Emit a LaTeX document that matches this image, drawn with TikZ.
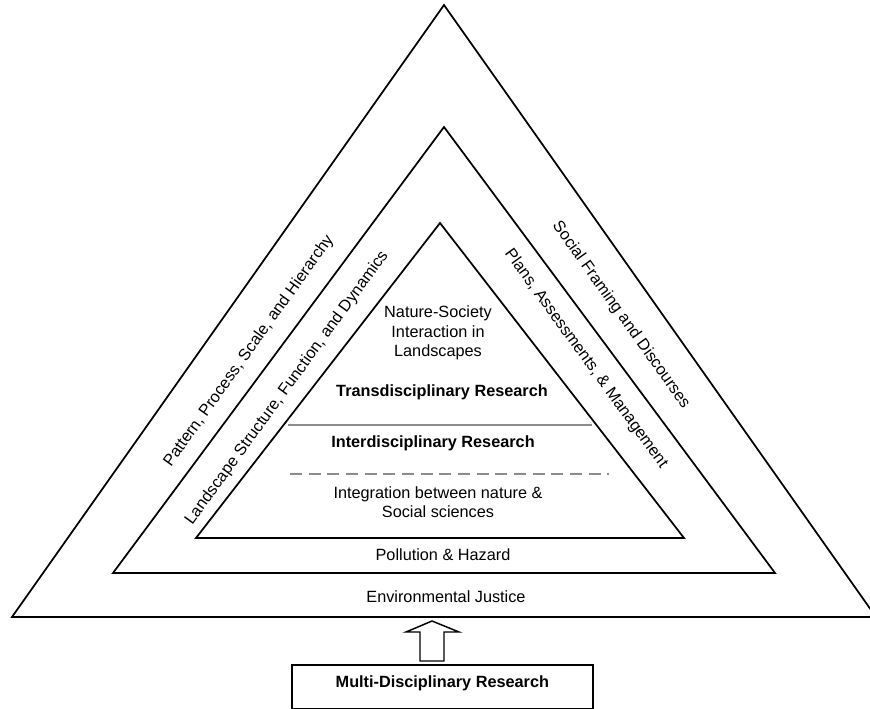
\documentclass[tikz,border=0pt]{standalone}
\usepackage{fontspec}
\setmainfont{Liberation Sans}
\usetikzlibrary{calc}
\begin{document}
\begin{tikzpicture}[x=0.75pt,y=-0.75pt,
  tri/.style={draw=black,line width=1.3pt,line join=miter},
  lbl/.style={inner sep=0pt,font=\fontsize{12.2pt}{14.5pt}\selectfont,align=center},
  blbl/.style={lbl,font=\fontsize{12.2pt}{14.5pt}\selectfont\bfseries},
  sep/.style={draw=black!45,line width=1.4pt},
  dsep/.style={sep,dash pattern=on 9pt off 5pt}]
\useasboundingbox (0,0) rectangle (870,709);
\begin{scope}
\clip (0,0) rectangle (870,709);
% triangles
\coordinate (A1) at (444,5);   \coordinate (B1) at (12,617);  \coordinate (C1) at (876,617);
\coordinate (A2) at (444,127); \coordinate (B2) at (113,573); \coordinate (C2) at (775,573);
\coordinate (A3) at (440,223); \coordinate (B3) at (196,538); \coordinate (C3) at (684,538);
\draw[tri] (A1) -- (B1) -- (C1) -- cycle;
\draw[tri] (A2) -- (B2) -- (C2) -- cycle;
\draw[tri] (A3) -- (B3) -- (C3) -- cycle;
\end{scope}
% separators
\coordinate (s1) at (288,425); \coordinate (s2) at (592,425);
\coordinate (d1) at (290,474); \coordinate (d2) at (609,474);
\draw[sep] (s1) -- (s2);
\draw[dsep] (d1) -- (d2);
% inner texts
\node[lbl] (nsi) at (438,333) {Nature-Society\\Interaction in\\Landscapes};
\node[blbl] (trans) at (442,392) {Transdisciplinary Research};
\node[blbl] (inter) at (433,443) {Interdisciplinary Research};
\node[lbl] (integ) at (438,502) {Integration between nature \&\\Social sciences};
\node[lbl] (poll) at (443,555) {Pollution \& Hazard};
\node[lbl] (env) at (446,597) {Environmental Justice};
% side texts
\node[lbl,rotate=54.5] (ppsh) at (249,351) {Pattern, Process, Scale, and Hierarchy};
\node[lbl,rotate=54] (lsfd) at (287,388) {Landscape Structure, Function, and Dynamics};
\node[lbl,rotate=-54.5] (sfd) at (621,315) {Social Framing and Discourses};
\node[lbl,rotate=-54] (pam) at (586,359) {Plans, Assessments, \& Management};
% bottom box
\node[draw=black,line width=1.3pt,minimum width=301pt*0.75,minimum height=44pt*0.75,
  inner sep=0pt,font=\fontsize{12.2pt}{14.5pt}\selectfont\bfseries,anchor=north west] (multi) at (291,664)
  {\raisebox{8pt}{Multi-Disciplinary Research}};
% hollow arrow
\coordinate (ab) at (432,661);
\draw[line width=1.1pt,line join=miter]
  ($(ab)+(-12,0)$) -- ++(0,-29) -- ++(-14,0) -- (432,621) -- (459,632) -- ++(-15,0) -- ($(ab)+(12,0)$) -- cycle;
\end{tikzpicture}
\end{document}
